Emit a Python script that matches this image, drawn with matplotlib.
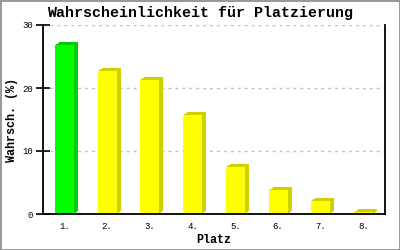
import matplotlib
matplotlib.use("Agg")
import matplotlib.pyplot as plt
from matplotlib.transforms import ScaledTranslation

# data
places = ["1.", "2.", "3.", "4.", "5.", "6.", "7.", "8."]
probs = [26.8, 22.7, 21.3, 15.7, 7.5, 3.8, 2.1, 0.3]
front_colors = ["#00ff00"] + ["#ffff00"] * 7
side_colors = ["#00cc00"] + ["#d0d000"] * 7
yticks = [0, 10, 20, 30]

plt.rcParams["font.family"] = ["Liberation Mono", "DejaVu Sans Mono"]

fig = plt.figure(figsize=(4, 2.5), dpi=100)
fig.patch.set_facecolor("white")
fig.patch.set_edgecolor("#999999")
fig.patch.set_linewidth(2)

ax = fig.add_axes([0.1075, 0.144, 0.855, 0.756])
x = list(range(len(places)))

# 3D look: stack of shifted copies behind the front face (pixel staircase)
for k in range(1, 5):
    off = ax.transData + ScaledTranslation(k / 100, 0.75 * k / 100, fig.dpi_scale_trans)
    ax.bar(x, probs, width=0.44, color=side_colors, transform=off, zorder=2)
ax.bar(x, probs, width=0.44, color=front_colors, zorder=3)

ax.set_xlim(-0.5, len(places) - 0.5)
ax.set_ylim(0, 30)
ax.set_yticks(yticks)
ax.set_xticks(x)
ax.set_xticklabels(places)
ax.tick_params(axis="y", direction="inout", length=10, width=1.2, labelsize=6.5, pad=2)
ax.tick_params(axis="x", length=0, labelsize=6.5, pad=6)
ax.yaxis.grid(True, color="#c0c0c0", linestyle=(0, (2, 3)), linewidth=1)
ax.set_axisbelow(True)

ax.spines["top"].set_visible(False)
for s in ["left", "bottom", "right"]:
    ax.spines[s].set_linewidth(1.3)
    ax.spines[s].set_zorder(4)

fig.text(0.5, 0.948, "Wahrscheinlichkeit für Platzierung", ha="center", va="center",
         fontsize=10.8, fontweight="bold")
ax.set_xlabel("Platz", fontsize=8.5, fontweight="bold", labelpad=2)
ax.set_ylabel("Wahrsch. (%)", fontsize=8.5, fontweight="bold", labelpad=3)

fig.savefig("out.png", dpi=100)
